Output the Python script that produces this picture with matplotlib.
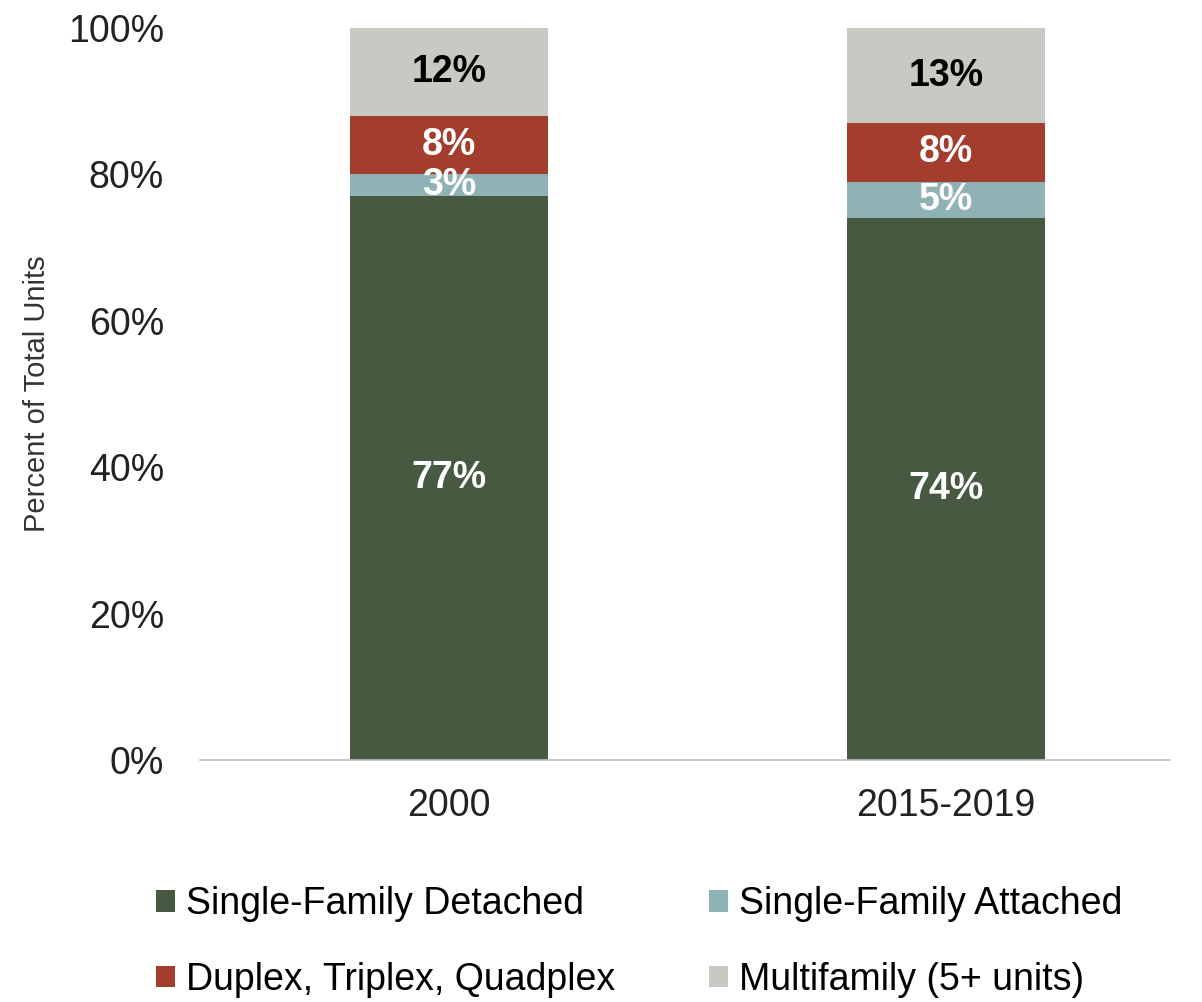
import numpy as np
import matplotlib
matplotlib.use('Agg')
import matplotlib.pyplot as plt
from matplotlib.patches import Patch

plt.rcParams['font.family'] = ['Liberation Sans', 'DejaVu Sans']

periods = ['2000', '2015-2019']
series = ['Single-Family Detached', 'Single-Family Attached',
          'Duplex, Triplex, Quadplex', 'Multifamily (5+ units)']
detached = [77, 74]
attached = [3, 5]
duplex = [8, 8]
multifamily = [12, 13]
colors = ['#475940', '#8FB2B7', '#A33E2E', '#C9C9C4']
label_colors = ['white', 'white', 'white', 'black']

fig = plt.figure(figsize=(12.02, 10.02), dpi=100, facecolor='white')
ax = fig.add_axes([0.1664, 0.2415, 0.807, 0.7305])

x = np.arange(len(periods))
bottom = np.zeros(len(periods))
for vals, col, lc in zip([detached, attached, duplex, multifamily], colors, label_colors):
    vals = np.array(vals, dtype=float)
    ax.bar(x, vals, width=0.4, bottom=bottom, color=col)
    for xi, v, b in zip(x, vals, bottom):
        ax.text(xi, b + v / 2, f'{int(v)}%', ha='center', va='center',
                fontsize=27, fontweight='bold', color=lc)
    bottom += vals

ax.set_xlim(-0.501, 1.451)
ax.set_ylim(0, 100)
ax.set_yticks([0, 20, 40, 60, 80, 100])
ax.set_yticklabels([f'{t}%' for t in [0, 20, 40, 60, 80, 100]])
ax.set_xticks(x)
ax.set_xticklabels(periods)
ax.tick_params(axis='both', length=0, labelsize=27, colors='#222222')
ax.tick_params(axis='y', pad=26)
ax.tick_params(axis='x', pad=20)
ax.set_ylabel('Percent of Total Units', fontsize=21, color='#333333', labelpad=12)
for s in ['top', 'right', 'left']:
    ax.spines[s].set_visible(False)
ax.spines['bottom'].set_color('#BFBFBF')
ax.spines['bottom'].set_linewidth(1.2)

order = [0, 2, 1, 3]
handles = [Patch(facecolor=colors[i], edgecolor='none') for i in order]
labels = [series[i] for i in order]
fig.legend(handles, labels, ncol=2, loc='lower left', bbox_to_anchor=(0.108, -0.022),
           borderpad=0.2, frameon=False, fontsize=27, handlelength=0.5, handleheight=0.5,
           handletextpad=0.3, columnspacing=2.5, labelspacing=1.05)

fig.savefig('out.png', dpi=100, facecolor='white')
